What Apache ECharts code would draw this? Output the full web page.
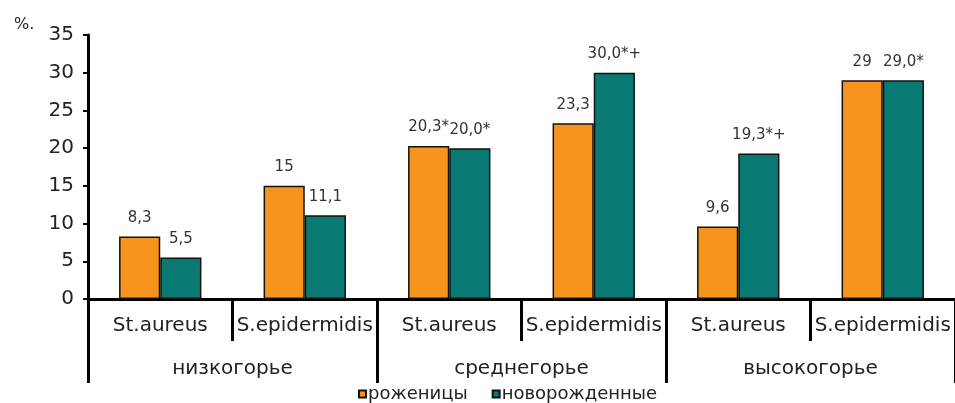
<!DOCTYPE html>
<html>
<head>
<meta charset="utf-8">
<script src="https://cdn.jsdelivr.net/npm/echarts@6/dist/echarts.min.js"></script>
<style>
html, body { margin: 0; padding: 0; background: #fff; }
#main { width: 955px; height: 403px; }
</style>
</head>
<body>
<div id="main"></div>
<script>
// подписи категорий и групп
var categories = ['St.aureus', 'S.epidermidis', 'St.aureus', 'S.epidermidis', 'St.aureus', 'S.epidermidis'];
var groups = ['низкогорье', 'среднегорье', 'высокогорье'];
// значения, %
var mothers = [8.3, 15, 20.3, 23.3, 9.6, 29];
var newborns = [5.5, 11.1, 20.0, 30.0, 19.3, 29.0];
// подписи над столбиками
var mothersLabels = ['8,3', '15', '20,3*', '23,3', '9,6', '29'];
var newbornsLabels = ['5,5', '11,1', '20,0*', '30,0*+', '19,3*+', '29,0*'];
var yTicks = [0, 5, 10, 15, 20, 25, 30, 35];

var font = 'DejaVu Sans';
var myChart = echarts.init(document.getElementById('main'));

var labelStyle = function(texts) {
    return {
        show: true,
        position: 'top',
        distance: 11,
        color: '#333',
        fontSize: 15,
        fontFamily: font,
        formatter: function(p) { return texts[p.dataIndex]; }
    };
};

var option = {
    backgroundColor: '#fff',
    animation: false,
    grid: { left: 88, top: 35, bottom: 104, width: 872 },
    legend: {
        left: 358,
        top: 385,
        padding: 0,
        icon: 'rect',
        itemWidth: 7,
        itemHeight: 7,
        itemGap: 24,
        textStyle: { fontSize: 18, fontFamily: font, color: '#222', padding: [0, 0, 0, -3] },
        data: ['роженицы', 'новорожденные']
    },
    graphic: [{
        type: 'text',
        left: 14,
        top: 17,
        style: { text: '%.', fontSize: 16, fontFamily: font, fill: '#222' }
    }],
    xAxis: [{
        type: 'category',
        data: categories,
        position: 'bottom',
        axisLine: { lineStyle: { color: '#000', width: 3 } },
        axisTick: { show: true, interval: 0, length: 42, lineStyle: { color: '#000', width: 3 } },
        axisLabel: { interval: 0, margin: 17, fontSize: 20, fontFamily: font, color: '#222' }
    }, {
        type: 'category',
        data: groups,
        position: 'bottom',
        axisLine: { show: false },
        axisTick: { show: true, interval: 0, length: 84, lineStyle: { color: '#000', width: 3 } },
        axisLabel: { interval: 0, margin: 60, fontSize: 20, fontFamily: font, color: '#222' }
    }],
    yAxis: {
        type: 'value',
        min: yTicks[0],
        max: yTicks[yTicks.length - 1],
        interval: 5,
        splitLine: { show: false },
        axisLine: { show: true, lineStyle: { color: '#000', width: 3 } },
        axisTick: { show: true, length: 5, lineStyle: { color: '#000', width: 2 } },
        axisLabel: { margin: 14, fontSize: 20, fontFamily: font, color: '#222' }
    },
    series: [{
        name: 'роженицы',
        type: 'bar',
        barGap: '0%',
        barCategoryGap: '43%',
        data: mothers,
        itemStyle: { color: '#F7941D', borderColor: '#111', borderWidth: 1.5 },
        label: labelStyle(mothersLabels)
    }, {
        name: 'новорожденные',
        type: 'bar',
        barGap: '0%',
        barCategoryGap: '43%',
        data: newborns,
        itemStyle: { color: '#087A72', borderColor: '#111', borderWidth: 1.5 },
        label: labelStyle(newbornsLabels)
    }]
};

myChart.setOption(option);
</script>
</body>
</html>
